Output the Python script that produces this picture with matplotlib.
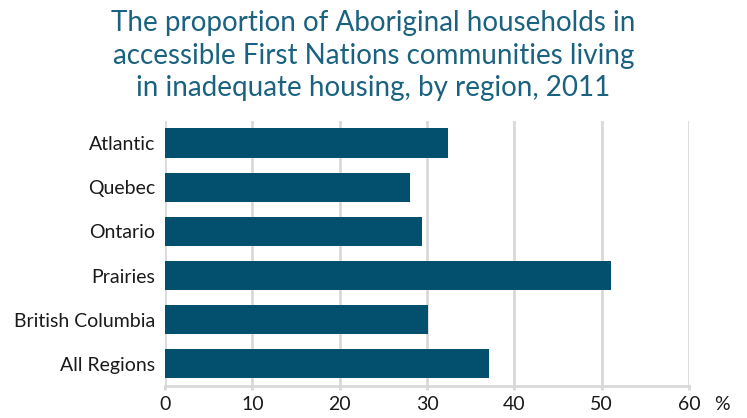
# Inadequate housing in First Nations communities, by region (2011)
import matplotlib.pyplot as plt

plt.rcParams['font.family'] = ['Lato', 'DejaVu Sans']

regions = ["Atlantic", "Quebec", "Ontario", "Prairies", "British Columbia", "All Regions"]
percent = [32.4, 28.0, 29.4, 51.1, 30.1, 37.1]
x_ticks = [0, 10, 20, 30, 40, 50, 60]

bar_color = "#02506e"
title_color = "#1b6280"
grid_color = "#d9d9d9"

fig = plt.figure(figsize=(7.47, 4.18), dpi=100)
ax = fig.add_axes([0.2209, 0.0766, 0.7015, 0.634])

ax.barh(regions, percent, height=0.66, color=bar_color, zorder=3)
ax.set_ylim(5.5, -0.5)
ax.set_xlim(0, 60)
ax.set_xticks(x_ticks)
ax.xaxis.grid(True, color=grid_color, linewidth=2, zorder=0)

for side in ['top', 'right', 'left']:
    ax.spines[side].set_visible(False)
ax.spines['bottom'].set_color(grid_color)
ax.spines['bottom'].set_linewidth(2)

ax.tick_params(axis='y', length=0, pad=7, labelsize=14, labelcolor="#1a1a1a")
ax.tick_params(axis='x', length=3, width=2, color=grid_color, pad=4,
               labelsize=14, labelcolor="#1a1a1a")

fig.text(0.967, 0.02, "%", fontsize=14, color="#1a1a1a", ha='center', va='baseline')

fig.text(0.5, 0.975,
         "The proportion of Aboriginal households in\n"
         "accessible First Nations communities living\n"
         "in inadequate housing, by region, 2011",
         ha='center', va='top', fontsize=20, color=title_color, linespacing=1.3)

plt.savefig("out.png", dpi=100)
